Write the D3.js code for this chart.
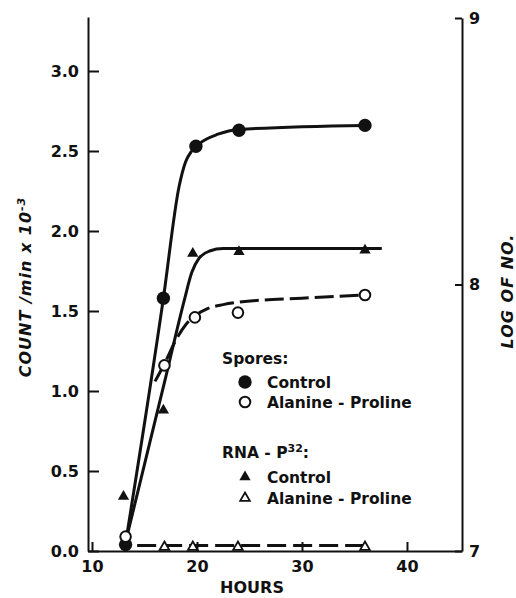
<!DOCTYPE html>
<html>
<head>
<meta charset="utf-8">
<script src="https://cdn.jsdelivr.net/npm/d3@7"></script>
<style>
  html, body { margin: 0; padding: 0; background: #fff; }
  svg { display: block; }
  text { font-family: "DejaVu Sans", sans-serif; fill: #111; }
</style>
</head>
<body>
<svg id="chart" width="516" height="598"></svg>
<script>
// ---- Data ----
const sporesControlHours = [13.2, 16.8, 19.9, 24, 36];
const sporesControl      = [0.04, 1.58, 2.53, 2.63, 2.66];

const sporesAlaProHours  = [13.2, 16.9, 19.8, 23.9, 36];
const sporesAlaPro       = [0.09, 1.16, 1.46, 1.49, 1.60];

const rnaControlHours    = [13.0, 16.8, 19.6, 24, 36];
const rnaControl         = [0.34, 0.88, 1.86, 1.87, 1.88];

const rnaAlaProHours     = [16.9, 19.6, 23.9, 36];
const rnaAlaPro          = [0.025, 0.025, 0.025, 0.025];

// hand-drawn fitted curves
const sporesControlFitHours = [13.25, 16.8, 18.3, 18.9, 19.5, 20.2, 22, 24, 36];
const sporesControlFit      = [0.07, 1.58, 2.28, 2.43, 2.50, 2.545, 2.605, 2.635, 2.66];

const rnaControlFitHours = [13.25, 17.0, 18.8, 19.5, 20.2, 21.2, 22.5, 37.6];
const rnaControlFit      = [0.07, 1.08, 1.57, 1.74, 1.83, 1.875, 1.89, 1.89];

const sporesAlaProFitHours = [16.0, 16.9, 18.0, 19.0, 19.8, 21, 22.5, 24, 30, 36];
const sporesAlaProFit      = [1.06, 1.17, 1.32, 1.42, 1.47, 1.515, 1.54, 1.555, 1.58, 1.60];

const rnaAlaProFitHours = [14.3, 36];
const rnaAlaProFit      = [0.035, 0.035];

const xTicks  = [10, 20, 30, 40];
const yTicks  = [0, 0.5, 1.0, 1.5, 2.0, 2.5, 3.0];
const y2Ticks = [7, 8, 9];

const legendGroups = ["Spores:", "RNA - P"];
const legendLabels = ["Control", "Alanine - Proline", "Control", "Alanine - Proline"];

// ---- Layout ----
const svg = d3.select("#chart");
const L = 88, R = 462, T = 17, B = 551;

const x  = d3.scaleLinear().domain([9.62, 45.24]).range([L, R]);
const y  = d3.scaleLinear().domain([0, 3.3375]).range([B, T]);
const y2 = d3.scaleLinear().domain([7, 9]).range([B, 18]);

const tickFont = "bold 16px 'DejaVu Sans'";

// Left axis
const gy = svg.append("g").attr("transform", `translate(${L},0)`)
  .call(d3.axisLeft(y).tickValues(yTicks).tickFormat(d3.format(".1f"))
        .tickSizeInner(-11).tickSizeOuter(0).tickPadding(9));
// Right axis
const gy2 = svg.append("g").attr("transform", `translate(${R},0)`)
  .call(d3.axisRight(y2).tickValues(y2Ticks).tickFormat(d3.format("d"))
        .tickSizeInner(-7).tickSizeOuter(0).tickPadding(7));
// Bottom axis
const gx = svg.append("g").attr("transform", `translate(0,${B})`)
  .call(d3.axisBottom(x).tickValues(xTicks).tickFormat(d3.format("d"))
        .tickSizeInner(-9).tickSizeOuter(0).tickPadding(10));

[gy, gy2, gx].forEach(g => {
  g.select(".domain").attr("stroke", "#111").attr("stroke-width", 2);
  g.selectAll(".tick line").attr("stroke", "#111").attr("stroke-width", 2);
  g.selectAll(".tick text").style("font", tickFont).attr("fill", "#111");
});

// Axis titles
svg.append("text")
  .attr("transform", "translate(31,287) rotate(-90)")
  .attr("text-anchor", "middle")
  .style("font", "italic bold 16px 'DejaVu Sans'")
  .style("letter-spacing", "1px")
  .text("COUNT /min x 10")
  .append("tspan").attr("baseline-shift", "super").style("font-size", "11px").text("-3");

svg.append("text")
  .attr("transform", "translate(513,291) rotate(-90)")
  .attr("text-anchor", "middle")
  .style("font", "italic bold 16px 'DejaVu Sans'")
  .style("letter-spacing", "1px")
  .text("LOG OF NO.");

svg.append("text")
  .attr("x", 252).attr("y", 593)
  .attr("text-anchor", "middle")
  .style("font", tickFont)
  .text("HOURS");

// ---- Curves ----
const line = d3.line().x(d => x(d[0])).y(d => y(d[1])).curve(d3.curveMonotoneX);
const zip = (a, b) => a.map((v, i) => [v, b[i]]);

const curves = [
  { pts: zip(sporesControlFitHours, sporesControlFit), dash: null },
  { pts: zip(rnaControlFitHours, rnaControlFit), dash: null },
  { pts: zip(sporesAlaProFitHours, sporesAlaProFit), dash: "19,6" },
  { pts: zip(rnaAlaProFitHours, rnaAlaProFit), dash: "19,7" }
];
svg.append("g").selectAll("path").data(curves).join("path")
  .attr("d", d => line(d.pts))
  .attr("fill", "none")
  .attr("stroke", "#111")
  .attr("stroke-width", 3)
  .attr("stroke-linecap", "butt")
  .attr("stroke-dasharray", d => d.dash);

// ---- Markers ----
const markerDefs = {
  filledCircle: { type: d3.symbolCircle, size: 140, fill: "#111", sw: 0 },
  openCircle:   { type: d3.symbolCircle, size: 88,  fill: "#fff", sw: 2 },
  filledTri:    { type: d3.symbolTriangle, size: 55, fill: "#111", sw: 0 },
  openTri:      { type: d3.symbolTriangle, size: 40, fill: "#fff", sw: 1.8 }
};
function drawMarkers(hours, vals, kind) {
  const m = markerDefs[kind];
  svg.append("g").selectAll("path").data(zip(hours, vals)).join("path")
    .attr("transform", d => `translate(${x(d[0])},${y(d[1])})`)
    .attr("d", d3.symbol().type(m.type).size(m.size))
    .attr("fill", m.fill)
    .attr("stroke", "#111")
    .attr("stroke-width", m.sw);
}
drawMarkers(sporesControlHours, sporesControl, "filledCircle");
drawMarkers(sporesAlaProHours, sporesAlaPro, "openCircle");
drawMarkers(rnaControlHours, rnaControl, "filledTri");
drawMarkers(rnaAlaProHours, rnaAlaPro, "openTri");

// ---- Legend ----
const legFont = "bold 15.5px 'DejaVu Sans'";
const lg = svg.append("g");
lg.append("text").attr("x", 222).attr("y", 364).style("font", legFont).text(legendGroups[0]);
const rnaT = lg.append("text").attr("x", 222).attr("y", 458).style("font", legFont).text(legendGroups[1]);
rnaT.append("tspan").attr("baseline-shift", "super").style("font-size", "11px").text("32");
rnaT.append("tspan").text(":");

const legItems = [
  { kind: "filledCircle", label: legendLabels[0], cy: 382 },
  { kind: "openCircle",   label: legendLabels[1], cy: 402 },
  { kind: "filledTri",    label: legendLabels[2], cy: 477 },
  { kind: "openTri",      label: legendLabels[3], cy: 498 }
];
legItems.forEach(it => {
  const m = markerDefs[it.kind];
  lg.append("path")
    .attr("transform", `translate(245,${it.cy})`)
    .attr("d", d3.symbol().type(m.type).size(m.size))
    .attr("fill", m.fill).attr("stroke", "#111").attr("stroke-width", m.sw);
  lg.append("text").attr("x", 267).attr("y", it.cy + 6)
    .style("font", legFont).text(it.label);
});
</script>
</body>
</html>
